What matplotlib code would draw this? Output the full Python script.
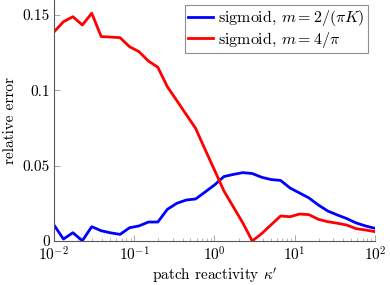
import numpy as np
import matplotlib
matplotlib.use("Agg")
import matplotlib.pyplot as plt
from matplotlib.ticker import LogLocator, FixedLocator, FixedFormatter, NullFormatter

plt.rcParams['font.family'] = ['cmr10', 'DejaVu Serif']
plt.rcParams['mathtext.fontset'] = 'cm'
plt.rcParams['axes.formatter.use_mathtext'] = True
plt.rcParams['axes.unicode_minus'] = False

kappa = np.logspace(-2, 2, 35)

err_blue = [0.0106, 0.0013, 0.0055, 0.0002, 0.0095, 0.0068, 0.0054, 0.0044, 0.0088,
            0.0100, 0.0126, 0.0126, 0.0210, 0.0250, 0.0272, 0.0279, 0.0325, 0.0372,
            0.0428, 0.0442, 0.0454, 0.0448, 0.0423, 0.0408, 0.0402, 0.0352, 0.0319,
            0.0286, 0.0239, 0.0199, 0.0173, 0.0149, 0.0120, 0.0100, 0.0084]

err_red = [0.1388, 0.1456, 0.1489, 0.1434, 0.1512, 0.1357, 0.1354, 0.1350, 0.1290,
           0.1257, 0.1195, 0.1153, 0.1025, 0.0933, 0.0840, 0.0748, 0.0608, 0.0471,
           0.0332, 0.0226, 0.0120, 0.0000, 0.0049, 0.0108, 0.0166, 0.0161, 0.0179,
           0.0175, 0.0144, 0.0128, 0.0118, 0.0106, 0.0082, 0.0073, 0.0062]

labels = [r'sigmoid, $m = 2/(\pi K)$', r'sigmoid, $m = 4/\pi$']
yticks = [0, 0.05, 0.1, 0.15]
yticklabels = ['0', '0.05', '0.1', '0.15']
xticks = [1e-2, 1e-1, 1e0, 1e1, 1e2]
xticklabels = [r'$10^{-2}$', r'$10^{-1}$', r'$10^{0}$', r'$10^{1}$', r'$10^{2}$']

fig = plt.figure(figsize=(3.9, 2.85), dpi=100)
ax = fig.add_axes([54/390, 1 - 241/285, (375-54)/390, 241/285])

ax.plot(kappa, err_blue, color='#0000ff', lw=2.0, label=labels[0])
ax.plot(kappa, err_red, color='#ff0000', lw=2.0, label=labels[1])

ax.set_xscale('log')
ax.set_xlim(1e-2, 1e2)
ax.set_ylim(0, 0.16)

ax.xaxis.set_major_locator(FixedLocator(xticks))
ax.xaxis.set_major_formatter(FixedFormatter(xticklabels))
ax.xaxis.set_minor_locator(LogLocator(base=10, subs=np.arange(2, 10)))
ax.xaxis.set_minor_formatter(NullFormatter())
ax.yaxis.set_major_locator(FixedLocator(yticks))
ax.yaxis.set_major_formatter(FixedFormatter(yticklabels))

for s in ['top', 'right']:
    ax.spines[s].set_visible(False)
for s in ['left', 'bottom']:
    ax.spines[s].set_color('0.35')
    ax.spines[s].set_linewidth(0.8)

ax.tick_params(axis='both', which='major', direction='in', length=4, width=0.6,
               color='0.6', labelsize=11, pad=3)
ax.tick_params(axis='x', which='minor', direction='in', length=2.5, width=0.5, color='0.6')

ax.set_xlabel(r"patch reactivity $\kappa'$", fontsize=11, labelpad=2)
ax.set_ylabel('relative error', fontsize=11, labelpad=4)

leg = ax.legend(loc='upper right', bbox_to_anchor=((368-54)/321, 1 - 5/241),
                bbox_transform=ax.transAxes,
                fontsize=11.5, frameon=True, fancybox=False, handlelength=1.6,
                handletextpad=0.3, borderpad=0.2, labelspacing=0.1, borderaxespad=0.0)
leg.get_frame().set_edgecolor('0.45')
leg.get_frame().set_linewidth(0.8)

fig.savefig('out.png', dpi=100)
